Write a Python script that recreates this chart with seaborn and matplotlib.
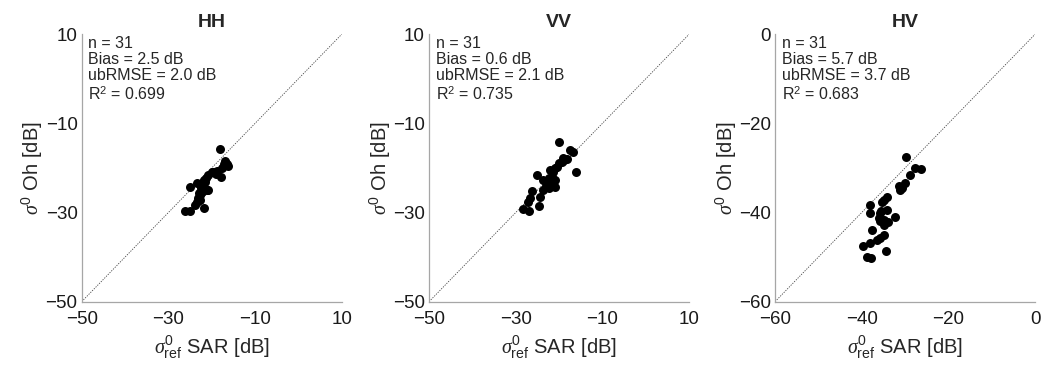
import numpy as np
import pandas as pd
import matplotlib
matplotlib.use("Agg")
import matplotlib.pyplot as plt
import seaborn as sns

# =====================================================
# DATA
# =====================================================
hh_sar = [-18.1, -16.9, -16.4, -16.2, -17.7, -18.8, -19.6, -20.8, -17.9, -21.2,
          -21.5, -23.5, -25.0, -20.8, -22.3, -22.7, -23.1, -23.5, -23.9, -21.7,
          -26.2, -25.0, -22.0, -21.8, -22.5, -20.0, -19.0, -23.0, -21.0, -22.8, -17.2]
hh_oh = [-15.8, -18.4, -19.1, -19.6, -20.1, -20.6, -20.8, -21.6, -22.0, -22.3,
         -23.1, -23.4, -24.2, -24.9, -25.3, -26.1, -26.8, -27.6, -28.3, -29.0,
         -29.6, -29.6, -24.0, -22.8, -24.6, -21.0, -21.4, -25.5, -25.0, -27.2, -19.0]

vv_sar = [-20.1, -17.4, -16.7, -18.2, -19.4, -20.1, -20.5, -20.9, -22.1, -16.1,
          -25.1, -21.7, -22.4, -23.6, -21.3, -20.9, -22.4, -23.6, -26.3, -24.4,
          -26.7, -27.1, -24.6, -28.2, -26.9, -19.0, -21.5, -22.0, -21.0, -18.8, -23.0]
vv_oh = [-14.2, -16.0, -16.3, -18.0, -18.6, -18.9, -19.7, -20.1, -20.4, -21.0,
         -21.6, -22.0, -22.3, -22.7, -23.1, -24.2, -24.6, -24.9, -25.2, -26.4,
         -26.8, -27.6, -28.5, -29.2, -29.6, -17.8, -21.0, -23.5, -22.6, -18.3, -24.0]

hv_sar = [-29.7, -27.7, -26.2, -28.8, -29.9, -31.5, -31.1, -34.1, -34.9, -35.3,
          -38.0, -34.1, -38.0, -35.7, -36.1, -35.7, -34.9, -32.2, -34.9, -37.6,
          -34.9, -35.7, -36.5, -38.0, -39.6, -34.3, -38.8, -37.8, -35.5, -34.0, -30.6]
hv_oh = [-27.5, -29.9, -30.2, -31.6, -33.4, -34.0, -34.9, -36.4, -37.2, -37.6,
         -38.3, -39.4, -40.2, -40.2, -41.3, -42.0, -41.7, -40.9, -42.8, -43.8,
         -45.0, -45.8, -46.2, -46.8, -47.5, -48.6, -49.9, -50.3, -39.6, -42.2, -34.6]

pols = ["HH", "VV", "HV"]
limits = [(-50, 10), (-50, 10), (-60, 0)]
ticks = [[-50, -30, -10, 10], [-50, -30, -10, 10], [-60, -40, -20, 0]]
n_obs = [31, 31, 31]
bias = [2.5, 0.6, 5.7]
ubrmse = [2.0, 2.1, 3.7]
r2 = ["0.699", "0.735", "0.683"]

sar = [hh_sar, vv_sar, hv_sar]
oh = [hh_oh, vv_oh, hv_oh]

# =====================================================
# STYLE
# =====================================================
sns.set_style("white")
plt.rcParams["font.family"] = ["Liberation Sans", "DejaVu Sans"]
plt.rcParams["mathtext.fontset"] = "custom"
plt.rcParams["mathtext.rm"] = "Liberation Sans"
plt.rcParams["mathtext.it"] = "Liberation Serif:italic"
plt.rcParams["mathtext.bf"] = "Liberation Sans:bold"

fig = plt.figure(figsize=(10.51, 3.70), dpi=100)
lefts = [0.0777, 0.4082, 0.7374]

for i in range(3):
    ax = fig.add_axes([lefts[i], 0.1846, 0.2474, 0.7227])
    df = pd.DataFrame({"sar": sar[i], "oh": oh[i]})
    lo, hi = limits[i]

    # 1:1 line
    ax.plot([lo, hi], [lo, hi], ls=(0, (1.5, 1.5)), color="#444444", lw=0.6, zorder=1)
    sns.scatterplot(data=df, x="sar", y="oh", ax=ax, color="black", s=42,
                    edgecolor="black", linewidth=0, zorder=3)

    ax.set_xlim(lo, hi)
    ax.set_ylim(lo, hi)
    ax.set_xticks(ticks[i])
    ax.set_yticks(ticks[i])
    ax.tick_params(direction="in", length=3, width=0.8, color="#999999",
                   labelsize=13.5, labelcolor="#1a1a1a")
    ax.tick_params(axis="x", pad=7)
    ax.tick_params(axis="y", pad=3)

    for s in ["top", "right"]:
        ax.spines[s].set_visible(False)
    for s in ["left", "bottom"]:
        ax.spines[s].set_color("#a6a6a6")
        ax.spines[s].set_linewidth(0.9)

    ax.set_title(pols[i], fontsize=14, fontweight="bold", pad=5)
    ax.set_xlabel(r"$\sigma^0_{\mathrm{ref}}$ SAR [dB]", fontsize=14.5, labelpad=4)
    ax.set_ylabel(r"$\sigma^0$ Oh [dB]", fontsize=14.5, labelpad=0)

    txt = (f"n = {n_obs[i]}\nBias = {bias[i]:.1f} dB\n"
           f"ubRMSE = {ubrmse[i]:.1f} dB\nR$^2$ = {r2[i]}")
    ax.text(0.025, 0.995, txt, transform=ax.transAxes, va="top", ha="left",
            fontsize=11.5, linespacing=1.1)

plt.savefig("out.png", dpi=100)
